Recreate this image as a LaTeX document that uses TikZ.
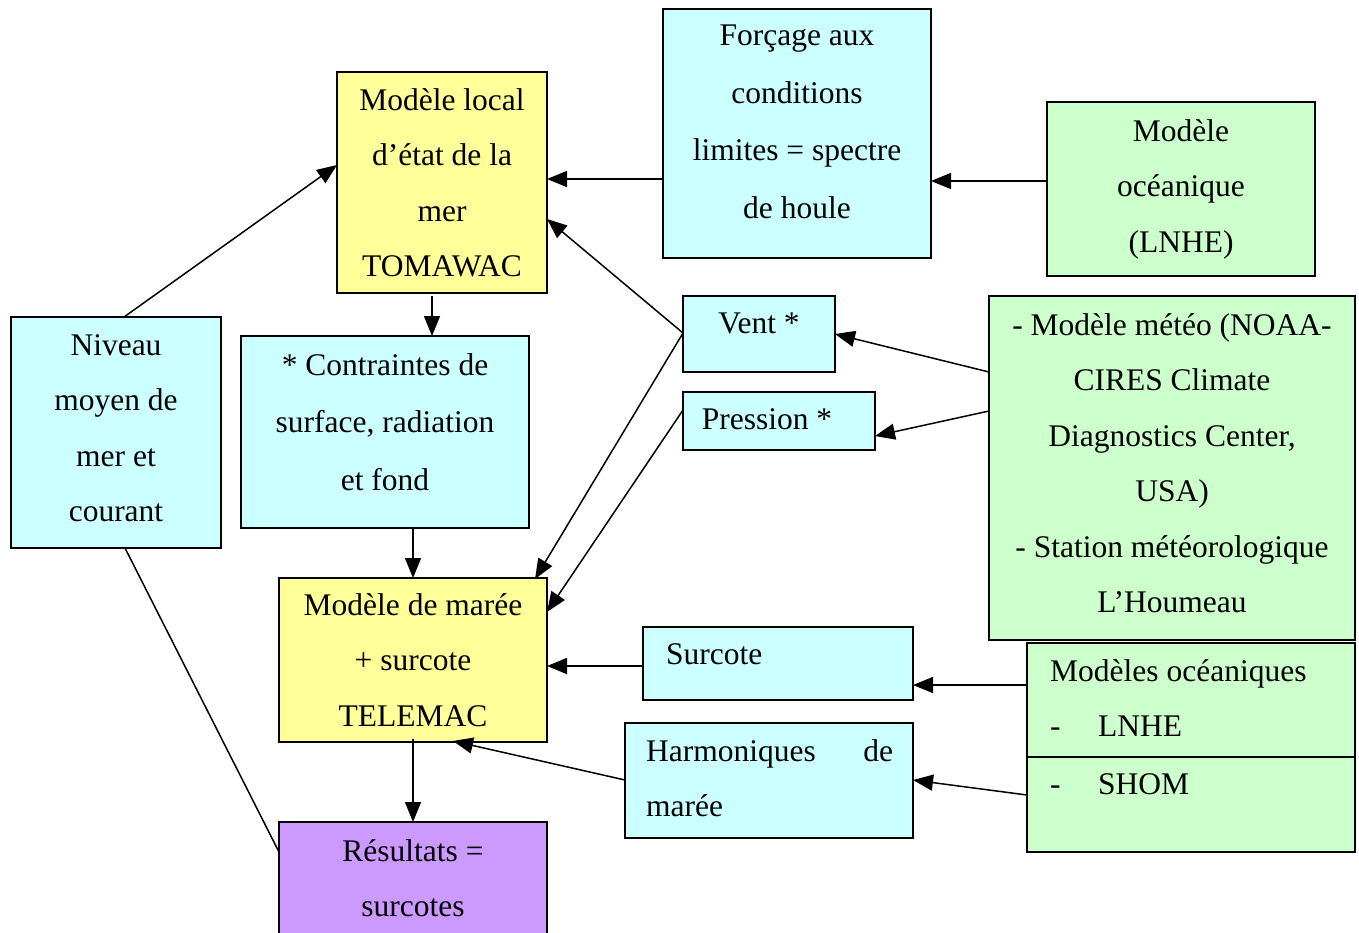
\documentclass[tikz,border=0pt]{standalone}
\usepackage{fontspec}
\setmainfont{Liberation Serif}
\usetikzlibrary{arrows.meta,calc}
\definecolor{yel}{HTML}{FFFF99}
\definecolor{cyb}{HTML}{CCFFFF}
\definecolor{grn}{HTML}{CCFFCC}
\definecolor{pur}{HTML}{CC99FF}
\begin{document}
\begin{tikzpicture}[x=1pt,y=-1pt,
  box/.style={draw, line width=1.8pt, anchor=north west, inner sep=0pt, outer sep=0pt},
  txt/.style={font=\fontsize{31.5}{55.5}\selectfont, inner sep=0pt, align=center, anchor=north},
  wtxt/.style={txt, font=\fontsize{31.5}{57.5}\selectfont},
  ltxt/.style={font=\fontsize{31.5}{55.5}\selectfont, inner sep=0pt, align=left, anchor=north west},
  arr/.style={line width=1.5pt, -{Triangle[length=20pt,width=16pt]}},
  con/.style={line width=1.5pt}]
\clip (0,0) rectangle (1359,932);
\fill[white] (0,0) rectangle (1359,932);
% boxes
\node[box, fill=yel, minimum width=210pt, minimum height=221pt] (A) at (337,72) {};
\node[box, fill=cyb, minimum width=268pt, minimum height=249pt] (B) at (663,9) {};
\node[box, fill=grn, minimum width=268pt, minimum height=174pt] (C) at (1047,102) {};
\node[box, fill=cyb, minimum width=210pt, minimum height=231pt] (D) at (11,317) {};
\node[box, fill=cyb, minimum width=288pt, minimum height=192pt] (E) at (241,336) {};
\node[box, fill=cyb, minimum width=152pt, minimum height=76pt] (F) at (683,296) {};
\node[box, fill=cyb, minimum width=192pt, minimum height=58pt] (G) at (683,392) {};
\node[box, fill=grn, minimum width=366pt, minimum height=344pt] (H) at (989,296) {};
\node[box, fill=yel, minimum width=268pt, minimum height=164pt] (I) at (279,578) {};
\node[box, fill=cyb, minimum width=270pt, minimum height=73pt] (J) at (643,627) {};
\node[box, fill=cyb, minimum width=288pt, minimum height=115pt] (K) at (625,723) {};
\node[box, fill=grn, minimum width=328pt, minimum height=209pt] (L) at (1027,643) {};
\node[box, fill=pur, minimum width=268pt, minimum height=140pt] (M) at (279,822) {};
\draw[line width=1.8pt] ($(L.north west)+(0,114)$) -- ($(L.north east)+(0,114)$);
% texts
\node[txt] (At) at (442,88) {Modèle local\\d’état de la\\mer\\TOMAWAC};
\node[wtxt] (Bt) at (797,25) {Forçage aux\\conditions\\limites = spectre\\de houle};
\node[txt] (Ct) at (1181,119) {Modèle\\océanique\\(LNHE)};
\node[txt] (Dt) at (116,334) {Niveau\\moyen de\\mer et\\courant};
\node[wtxt] (Et) at (385,353) {* Contraintes de\\surface, radiation\\et fond};
\node[txt] (Ft) at (759,313) {Vent *};
\node[txt] (Gt) at (767,408) {Pression *};
\node[txt] (Ht) at (1172,313) {- Modèle météo (NOAA-\\CIRES Climate\\Diagnostics Center,\\USA)\\- Station météorologique\\L’Houmeau};
\node[txt] (It) at (413,593) {Modèle de marée\\+ surcote\\TELEMAC};
\node[ltxt] (Jt) at (666,643) {Surcote};
\node[ltxt, text width=247pt] (Kt) at (646,739) {Harmoniques\hfill de\\marée};
\node[ltxt] (Lt) at (1050,659) {Modèles océaniques\\\makebox[48pt][l]{-}LNHE};
\node[ltxt] (Lt2) at (1050,773) {\makebox[48pt][l]{-}SHOM};
\node[txt] (Mt) at (413,839) {Résultats =\\surcotes};
% connectors
\draw[arr] ($(D.north west)+(113,0)$) -- ($(A.north west)+(0,93)$);
\draw[arr] ($(B.north west)+(0,170)$) -- ($(A.north east)+(0,107)$);
\draw[arr] ($(C.north west)+(0,79)$) -- ($(B.north east)+(0,172)$);
\draw[arr] ($(F.north west)+(0,37)$) -- ($(A.north east)+(0,147)$);
\draw[arr] ($(F.north west)+(0,37)$) -- ($(I.north east)+(-12,1)$);
\draw[arr] ($(G.north west)+(0,18)$) -- ($(I.north east)+(0,34)$);
\draw[arr] ($(H.north west)+(0,76)$) -- ($(F.north east)+(0,38)$);
\draw[arr] ($(H.north west)+(0,115)$) -- ($(G.north east)+(0,44)$);
\draw[arr] ($(A.south west)+(95,3)$) -- ($(E.north west)+(191,0)$);
\draw[arr] ($(E.south west)+(172,0)$) -- ($(I.north west)+(134,0)$);
\draw[arr] ($(J.north west)+(0,39)$) -- ($(I.north east)+(0,88)$);
\draw[arr] ($(L.north west)+(0,42)$) -- ($(J.north east)+(0,58)$);
\draw[arr] ($(K.north west)+(0,57)$) -- ($(I.south west)+(174,-1)$);
\draw[arr] ($(L.north west)+(0,152)$) -- ($(K.north east)+(0,57)$);
\draw[arr] ($(I.south west)+(134,-3)$) -- ($(M.north west)+(134,0)$);
\draw[con] ($(D.south west)+(114,0)$) -- ($(M.north west)+(0,30)$);
\end{tikzpicture}
\end{document}
